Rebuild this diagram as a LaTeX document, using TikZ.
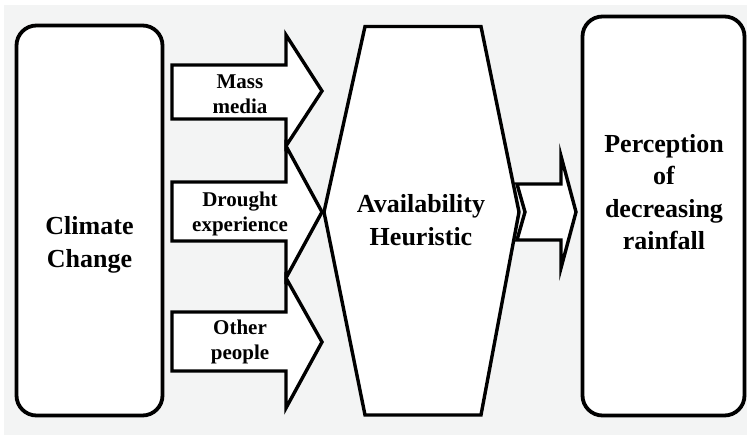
\documentclass[tikz,border=0pt]{standalone}
\usepackage{fontspec}
\setmainfont{Liberation Serif}
\definecolor{bggray}{RGB}{243,244,244}

\begin{document}
\begin{tikzpicture}[x=1pt, y=-1pt,
  box/.style={draw, line width=3.8pt, rounded corners=20pt, fill=white, inner sep=0pt},
  blockarrow/.style={draw, line width=3.4pt, fill=white, line join=miter},
  big/.style={font=\fontsize{26}{32.5}\selectfont\bfseries, align=center},
  small/.style={font=\fontsize{21}{25}\selectfont\bfseries, align=center}]
\useasboundingbox (0,0) rectangle (747,435);
\fill[bggray] (4,5) rectangle (747,435);
\node[box, minimum width=146pt, minimum height=390pt] (cc) at (89.5,220.5) {};
\node[box, minimum width=162pt, minimum height=399pt] (pr) at (663.5,216) {};
\draw[blockarrow] (172,65) -- (286,65) -- (286,35) -- (322,91) -- (286,146) -- (286,119) -- (172,119) -- cycle;
\draw[blockarrow] (172,182) -- (286,182) -- (286,146) -- (322,212) -- (286,278) -- (286,241) -- (172,241) -- cycle;
\draw[blockarrow] (172,312) -- (286,312) -- (286,278) -- (322,342) -- (286,408) -- (286,371) -- (172,371) -- cycle;
\draw[blockarrow] (365,26.5) -- (481,26.5) -- (519,212) -- (481,415) -- (365,415) -- (324,212) -- cycle;
\draw[blockarrow] (517,184) -- (561,184) -- (561,156) -- (576,212) -- (561,268) -- (561,240) -- (517,240) -- (525,212) -- cycle;
\node[big] (cctext) at (89.5,245) {Climate\\Change};
\node[big] (prtext) at (664,192) {Perception\\of\\decreasing\\rainfall};
\node[big] (ah) at (421,220) {Availability\\Heuristic};
\node[small] (mm) at (240,94) {Mass\\media};
\node[small] (de) at (240,214) {Drought\\experience};
\node[small] (op) at (240,342) {Other\\people};
\end{tikzpicture}
\end{document}
